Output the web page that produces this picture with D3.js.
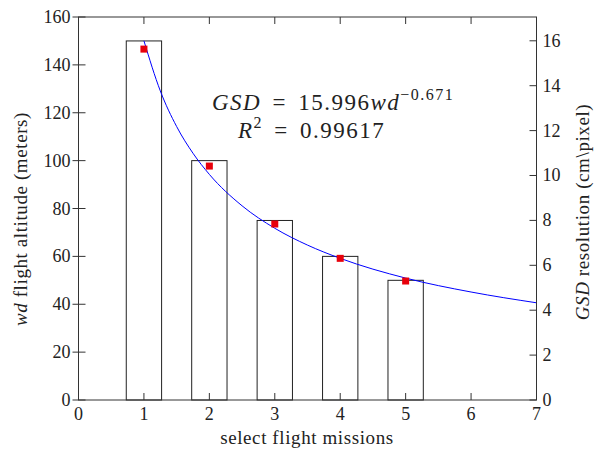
<!DOCTYPE html>
<html><head><meta charset="utf-8">
<script src="https://cdn.jsdelivr.net/npm/d3@7"></script>
<style>
body{margin:0;background:#fff;}
text{font-family:"Liberation Serif","DejaVu Serif",serif;fill:#222;}
</style></head>
<body><svg id="c" width="594" height="450"></svg>
<script>
const missions = [1, 2, 3, 4, 5];
const altitude = [150, 100, 75, 60, 50];
const gsdMeasured = [15.63, 10.42, 7.84, 6.31, 5.30];
const fitX = [1, 1.25, 1.5, 1.75, 2, 2.5, 3, 3.5, 4, 5, 6, 7];
const fitGSD = [16.0, 13.77, 12.18, 10.99, 10.05, 8.65, 7.65, 6.90, 6.31, 5.43, 4.81, 4.33];
const xTicks = [0, 1, 2, 3, 4, 5, 6, 7];
const leftTicks = [0, 20, 40, 60, 80, 100, 120, 140, 160];
const rightTicks = [0, 2, 4, 6, 8, 10, 12, 14, 16];

const L = 78.5, R = 536.5, T = 17, B = 400;
const svg = d3.select("#c");
const x = d3.scaleLinear().domain([0, 7]).range([L, R]);
const yL = d3.scaleLinear().domain([0, 160]).range([B, T]);
const yR = d3.scaleLinear().domain([0, 17.06]).range([B, T]);
const ax = "#333";

// bars
const bw = x(0.27) - x(0);
svg.append("g").selectAll("rect").data(missions).join("rect")
  .attr("x", (d) => x(d) - bw).attr("width", 2 * bw)
  .attr("y", (d, i) => yL(altitude[i])).attr("height", (d, i) => B - yL(altitude[i]))
  .attr("fill", "#fff").attr("stroke", "#222").attr("stroke-width", 1);

// fit curve
const line = d3.line().x((d) => x(d)).y((d, i) => yR(fitGSD[i])).curve(d3.curveMonotoneX);
svg.append("path").attr("d", line(fitX)).attr("fill", "none").attr("stroke", "#0000ff").attr("stroke-width", 1);

// red squares
const s = 7;
svg.append("g").selectAll("rect").data(missions).join("rect")
  .attr("x", (d) => x(d) - s / 2).attr("y", (d, i) => yR(gsdMeasured[i]) - s / 2)
  .attr("width", s).attr("height", s).attr("fill", "#e8000b");

// frame
svg.append("rect").attr("x", L).attr("y", T).attr("width", R - L).attr("height", B - T)
  .attr("fill", "none").attr("stroke", ax).attr("stroke-width", 1);

// ticks
const tk = svg.append("g").attr("stroke", ax).attr("stroke-width", 1);
xTicks.forEach((t) => {
  tk.append("line").attr("x1", x(t)).attr("x2", x(t)).attr("y1", B).attr("y2", B - 7);
  tk.append("line").attr("x1", x(t)).attr("x2", x(t)).attr("y1", T).attr("y2", T + 7);
});
leftTicks.forEach((t) => {
  tk.append("line").attr("x1", L - 6).attr("x2", L + 7).attr("y1", yL(t)).attr("y2", yL(t));
});
rightTicks.forEach((t) => {
  tk.append("line").attr("x1", R - 7).attr("x2", R).attr("y1", yR(t)).attr("y2", yR(t));
});

const fs = 18;
svg.append("g").selectAll("text").data(xTicks).join("text")
  .attr("x", (d) => x(d)).attr("y", B + 20).attr("text-anchor", "middle")
  .attr("font-size", fs).text((d) => d);
svg.append("g").selectAll("text").data(leftTicks).join("text")
  .attr("x", L - 8).attr("y", (d) => yL(d) + 6).attr("text-anchor", "end")
  .attr("font-size", fs).text((d) => d);
svg.append("g").selectAll("text").data(rightTicks).join("text")
  .attr("x", R + 6).attr("y", (d) => yR(d) + 6).attr("text-anchor", "start")
  .attr("font-size", fs).text((d) => d);

// axis labels
svg.append("text").attr("x", 307).attr("y", 444).attr("text-anchor", "middle")
  .attr("font-size", 19).attr("letter-spacing", 0.6).text("select flight missions");
const yl = svg.append("text").attr("transform", "translate(27,219) rotate(-90)")
  .attr("text-anchor", "middle").attr("font-size", 19).attr("letter-spacing", 0.6);
yl.append("tspan").attr("font-style", "italic").text("wd");
yl.append("tspan").text(" flight altitude (meters)");
const yr = svg.append("text").attr("transform", "translate(589,212) rotate(-90)")
  .attr("text-anchor", "middle").attr("font-size", 19).attr("letter-spacing", 0.6);
yr.append("tspan").attr("font-style", "italic").text("GSD");
yr.append("tspan").text(" resolution (cm\\pixel)");

// equation
const e1 = svg.append("text").attr("x", 212).attr("y", 110).attr("font-size", 23)
  .attr("letter-spacing", 1.5).attr("word-spacing", 4);
e1.append("tspan").attr("font-style", "italic").text("GSD");
e1.append("tspan").text(" = 15.996");
e1.append("tspan").attr("font-style", "italic").text("wd");
e1.append("tspan").attr("font-size", 16).attr("dy", -10).text("\u22120.671");
const e2 = svg.append("text").attr("x", 238).attr("y", 138).attr("font-size", 23)
  .attr("letter-spacing", 1.5).attr("word-spacing", 4);
e2.append("tspan").attr("font-style", "italic").text("R");
e2.append("tspan").attr("font-size", 16).attr("dy", -10).text("2");
e2.append("tspan").attr("dy", 10).text(" = 0.99617");
</script></body></html>
